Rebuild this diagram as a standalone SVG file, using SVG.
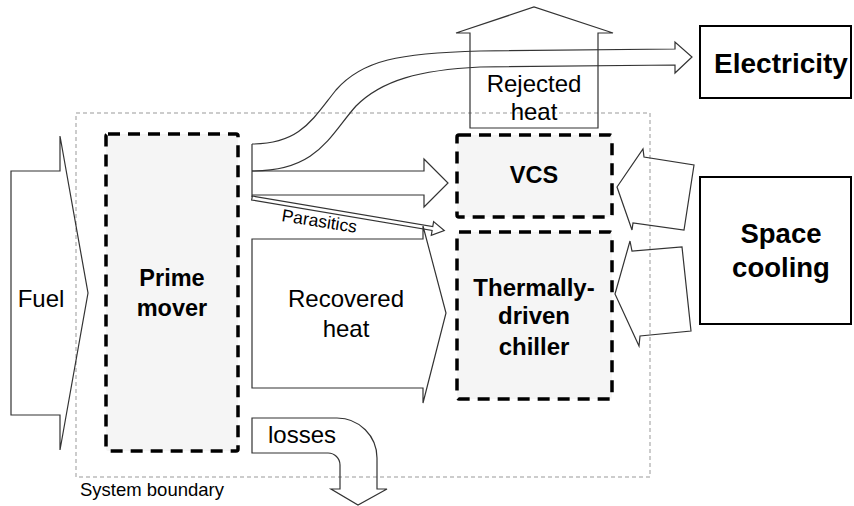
<svg xmlns="http://www.w3.org/2000/svg" width="854" height="506" viewBox="0 0 854 506">
<style>
.flow{fill:none;stroke:#333;stroke-width:1.2;stroke-linejoin:miter}
.box{fill:#f5f5f5;stroke:#000;stroke-width:3.5;stroke-dasharray:12 8}
.out{fill:#fff;stroke:#000;stroke-width:2}
.bnd{fill:none;stroke:#999;stroke-width:1;stroke-dasharray:4 3}
text{font-family:"Liberation Sans",Arial,sans-serif;fill:#000}
.b{font-weight:bold;text-anchor:middle}
.n{text-anchor:middle}
</style>
<rect id="boundary" class="bnd" x="76" y="113" width="574" height="364"/>
<text x="80" y="496" font-size="18.5">System boundary</text>

<g id="connectors">
  <path id="fuel" class="flow" d="M11,171 L60,171 L60,136 L88,293 L60,450 L60,415 L11,415 Z"/>
  <line class="flow" x1="252" y1="144" x2="252" y2="197"/>
  <path id="elec-flow" class="flow" d="M252,144 C300,144 312,120 336,90 C362,60 400,53 480,51 L675,49 L675,42 L692,57 L675,73 L675,65 L480,67 C420,70 382,80 356,106 C330,135 318,171 252,171"/>
  <path id="vcs-flow" class="flow" d="M252,171 L424,171 L424,159 L448,183 L424,207 L424,195 L252,195"/>
  <g id="parasitics" transform="translate(252,198) rotate(9.6)">
    <polygon class="flow" points="0,-2 183,-2 183,-7 195,0 183,7 183,2 0,2"/>
  </g>
  <text x="281" y="221" font-size="17.5" transform="rotate(9,281,221)">Parasitics</text>
  <path id="recovered" class="flow" d="M252,239 L423,239 L423,226 L446,313 L423,403 L423,388 L252,388 Z"/>
  <text class="n" x="346" y="307" font-size="24">Recovered</text>
  <text class="n" x="346" y="337" font-size="24">heat</text>
  <path id="losses" class="flow" d="M252,418 L337,418 A40,40 0 0 1 377,458 L377,489 L387,489 L358,505 L331,489 L340,489 L340,465 A12,12 0 0 0 328,453 L252,453 Z"/>
  <text x="268" y="443" font-size="24">losses</text>
  <path id="rejected" class="flow" d="M470,128 L470,33 L456,33 L534,7 L613,33 L598,33 L598,128 Z"/>
  <text class="n" x="534" y="92" font-size="24">Rejected</text>
  <text class="n" x="534" y="120" font-size="24">heat</text>
  <polygon id="cool1" class="flow" points="617,187 643,149 644,157 694,165 684,230 633,223 632,230"/>
  <polygon id="cool2" class="flow" points="615,294 630,241 632,251 682,247 691,331 640,336 639,346"/>
</g>

<text x="41" y="307" font-size="24" class="n">Fuel</text>

<g id="prime-mover">
  <rect class="box" x="106" y="134" width="132" height="317" rx="2"/>
  <text class="b" x="172" y="286" font-size="23.5">Prime</text>
  <text class="b" x="172" y="316" font-size="23.5">mover</text>
</g>
<g id="vcs">
  <rect class="box" x="457" y="135" width="155" height="82" rx="2"/>
  <text class="b" x="534" y="183" font-size="23.5">VCS</text>
</g>
<g id="chiller">
  <rect class="box" x="457" y="232" width="155" height="167" rx="2"/>
  <text class="b" x="534" y="296" font-size="24">Thermally-</text>
  <text class="b" x="534" y="324" font-size="24">driven</text>
  <text class="b" x="534" y="355" font-size="24">chiller</text>
</g>
<g id="electricity">
  <rect class="out" x="700" y="26" width="151" height="72"/>
  <text class="b" x="781" y="73" font-size="28">Electricity</text>
</g>
<g id="space-cooling">
  <rect class="out" x="700" y="177" width="151" height="147"/>
  <text class="b" x="781" y="243" font-size="27.5">Space</text>
  <text class="b" x="781" y="277" font-size="27.5">cooling</text>
</g>
</svg>
